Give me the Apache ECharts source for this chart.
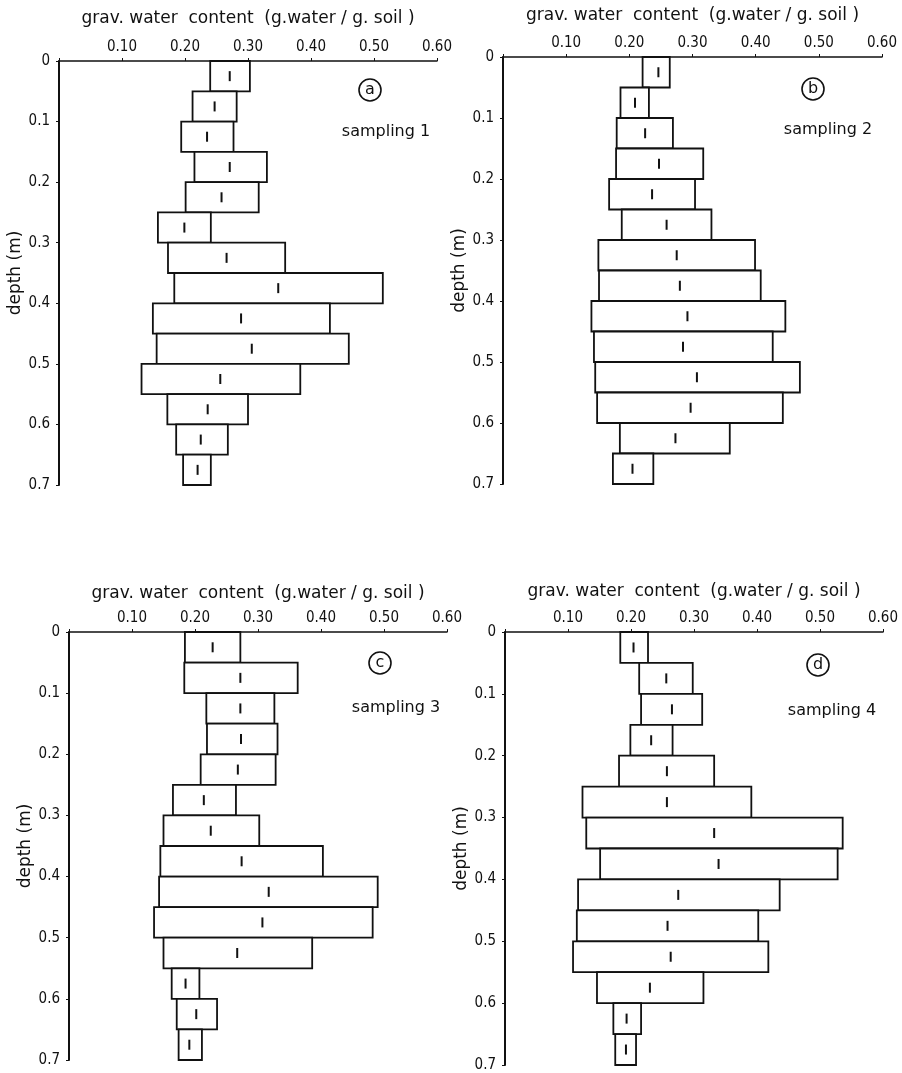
<!DOCTYPE html>
<html>
<head>
<meta charset="utf-8">
<script src="https://cdn.jsdelivr.net/npm/echarts@6/dist/echarts.min.js"></script>
<style>
  html, body { margin: 0; padding: 0; background: #fff; }
  #chart { width: 902px; height: 1073px; }
</style>
</head>
<body>
<div id="chart"></div>
<script>
// Depth intervals (m) of the soil samples
const depthTop    = [0.00, 0.05, 0.10, 0.15, 0.20, 0.25, 0.30, 0.35, 0.40, 0.45, 0.50, 0.55, 0.60, 0.65];
const depthBottom = [0.05, 0.10, 0.15, 0.20, 0.25, 0.30, 0.35, 0.40, 0.45, 0.50, 0.55, 0.60, 0.65, 0.70];

// Gravimetric water content (g water / g soil): range and mean per interval
// sampling 1
const min1  = [0.240, 0.212, 0.194, 0.215, 0.201, 0.157, 0.173, 0.183, 0.149, 0.155, 0.131, 0.172, 0.186, 0.197];
const max1  = [0.303, 0.282, 0.277, 0.330, 0.317, 0.241, 0.359, 0.514, 0.430, 0.460, 0.383, 0.300, 0.268, 0.241];
const mean1 = [0.271, 0.247, 0.235, 0.271, 0.258, 0.199, 0.266, 0.348, 0.289, 0.306, 0.256, 0.236, 0.225, 0.220];
// sampling 2
const min2  = [0.221, 0.186, 0.180, 0.179, 0.168, 0.188, 0.151, 0.152, 0.140, 0.144, 0.146, 0.149, 0.185, 0.174];
const max2  = [0.264, 0.231, 0.269, 0.317, 0.304, 0.330, 0.399, 0.408, 0.447, 0.427, 0.470, 0.443, 0.359, 0.238];
const mean2 = [0.246, 0.209, 0.225, 0.247, 0.236, 0.259, 0.275, 0.280, 0.292, 0.285, 0.307, 0.297, 0.273, 0.205];
// sampling 3
const min3  = [0.184, 0.183, 0.218, 0.219, 0.209, 0.165, 0.150, 0.145, 0.143, 0.135, 0.150, 0.163, 0.171, 0.174];
const max3  = [0.272, 0.363, 0.326, 0.331, 0.328, 0.265, 0.302, 0.403, 0.490, 0.482, 0.386, 0.207, 0.235, 0.211];
const mean3 = [0.228, 0.272, 0.272, 0.273, 0.268, 0.214, 0.225, 0.274, 0.317, 0.307, 0.267, 0.185, 0.202, 0.191];
// sampling 4
const min4  = [0.183, 0.213, 0.216, 0.199, 0.181, 0.123, 0.129, 0.151, 0.116, 0.114, 0.108, 0.146, 0.172, 0.175];
const max4  = [0.227, 0.298, 0.313, 0.266, 0.332, 0.391, 0.536, 0.528, 0.436, 0.402, 0.418, 0.315, 0.216, 0.208];
const mean4 = [0.204, 0.256, 0.265, 0.232, 0.257, 0.257, 0.332, 0.339, 0.275, 0.258, 0.263, 0.230, 0.193, 0.192];

// Axis tick values
const contentTicks = [0.10, 0.20, 0.30, 0.40, 0.50, 0.60];
const depthTicks   = [0, 0.1, 0.2, 0.3, 0.4, 0.5, 0.6, 0.7];

const panelLetters = ['a', 'b', 'c', 'd'];
const panelNames   = ['sampling 1', 'sampling 2', 'sampling 3', 'sampling 4'];

const mins  = [min1, min2, min3, min4];
const maxs  = [max1, max2, max3, max4];
const means = [mean1, mean2, mean3, mean4];

const NUM_FONT  = "'DejaVu Sans Condensed', 'Liberation Sans Narrow', 'DejaVu Sans', sans-serif";
const TEXT_FONT = "'DejaVu Sans', 'Noto Sans', sans-serif";
const INK = '#111';

// Plot area of each panel (pixels)
const grids = [
  { left: 59,  top: 61,  width: 378, height: 424 },
  { left: 503, top: 57,  width: 379, height: 427 },
  { left: 69,  top: 632, width: 378, height: 428 },
  { left: 505, top: 632, width: 378, height: 433 }
];
const titleGaps = [34, 33, 30, 32];

const xAxes = grids.map((g, i) => ({
  gridIndex: i,
  type: 'value',
  position: 'top',
  min: 0, max: 0.6, interval: 0.1,
  name: 'grav. water  content  (g.water / g. soil )',
  nameLocation: 'middle',
  nameGap: titleGaps[i],
  nameTextStyle: { fontFamily: TEXT_FONT, fontSize: 17, color: INK },
  axisLine: { show: true, lineStyle: { color: INK, width: 1.5 } },
  axisTick: { show: true, length: 3, lineStyle: { color: INK, width: 1 } },
  axisLabel: {
    fontFamily: NUM_FONT, fontSize: 15, color: INK, margin: 6,
    formatter: v => (contentTicks.some(t => Math.abs(t - v) < 1e-9) ? v.toFixed(2) : '')
  },
  splitLine: { show: false }
}));

const yAxes = grids.map((g, i) => ({
  gridIndex: i,
  type: 'value',
  inverse: true,
  min: 0, max: 0.7, interval: 0.1,
  name: 'depth (m)',
  nameLocation: 'middle',
  nameGap: 35,
  nameRotate: 90,
  nameTextStyle: { fontFamily: TEXT_FONT, fontSize: 17, color: INK },
  axisLine: { show: true, lineStyle: { color: INK, width: 2 } },
  axisTick: { show: true, length: 3, lineStyle: { color: INK, width: 1 } },
  axisLabel: {
    fontFamily: NUM_FONT, fontSize: 15, color: INK, margin: 9,
    padding: [0, 0, 6, 0],
    formatter: v => {
      const t = depthTicks.find(d => Math.abs(d - v) < 1e-9);
      if (t === undefined) return '';
      return t === 0 ? '0' : t.toFixed(1);
    }
  },
  splitLine: { show: false }
}));

function renderInterval(params, api) {
  const top = api.value(0), bottom = api.value(1);
  const lo = api.value(2), hi = api.value(3), mean = api.value(4);
  const p1 = api.coord([lo, top]);
  const p2 = api.coord([hi, bottom]);
  const pm = api.coord([mean, (top + bottom) / 2]);
  return {
    type: 'group',
    children: [
      {
        type: 'rect',
        shape: { x: p1[0], y: p1[1], width: p2[0] - p1[0], height: p2[1] - p1[1] },
        style: { fill: '#fff', stroke: INK, lineWidth: 1.8 }
      },
      {
        type: 'line',
        shape: { x1: pm[0], y1: pm[1] - 5, x2: pm[0], y2: pm[1] + 5 },
        style: { stroke: INK, lineWidth: 2 }
      }
    ]
  };
}

const series = grids.map((g, i) => ({
  type: 'custom',
  xAxisIndex: i,
  yAxisIndex: i,
  renderItem: renderInterval,
  encode: { x: [2, 3, 4], y: [0, 1] },
  data: depthTop.map((d, k) => [d, depthBottom[k], mins[i][k], maxs[i][k], means[i][k]]),
  silent: true
}));

// Panel markers: circled letter and sampling name
const markerPos = [
  { cx: 370, cy: 90,  sx: 386, sy: 132 },
  { cx: 813, cy: 89,  sx: 828, sy: 130 },
  { cx: 380, cy: 663, sx: 396, sy: 708 },
  { cx: 818, cy: 665, sx: 832, sy: 711 }
];
const graphic = [];
markerPos.forEach((m, i) => {
  graphic.push({
    type: 'circle', shape: { cx: m.cx, cy: m.cy, r: 11 },
    style: { fill: 'none', stroke: INK, lineWidth: 1.6 }, silent: true
  });
  graphic.push({
    type: 'text', x: m.cx, y: m.cy,
    style: { text: panelLetters[i], font: '16px ' + TEXT_FONT, fill: INK, textAlign: 'center', textVerticalAlign: 'middle' },
    silent: true
  });
  graphic.push({
    type: 'text', x: m.sx, y: m.sy,
    style: { text: panelNames[i], font: '16px ' + TEXT_FONT, fill: INK, textAlign: 'center', textVerticalAlign: 'middle' },
    silent: true
  });
});

const chart = echarts.init(document.getElementById('chart'), null, { renderer: 'canvas' });
chart.setOption({
  backgroundColor: '#fff',
  animation: false,
  grid: grids,
  xAxis: xAxes,
  yAxis: yAxes,
  series: series,
  graphic: graphic
});
</script>
</body>
</html>
